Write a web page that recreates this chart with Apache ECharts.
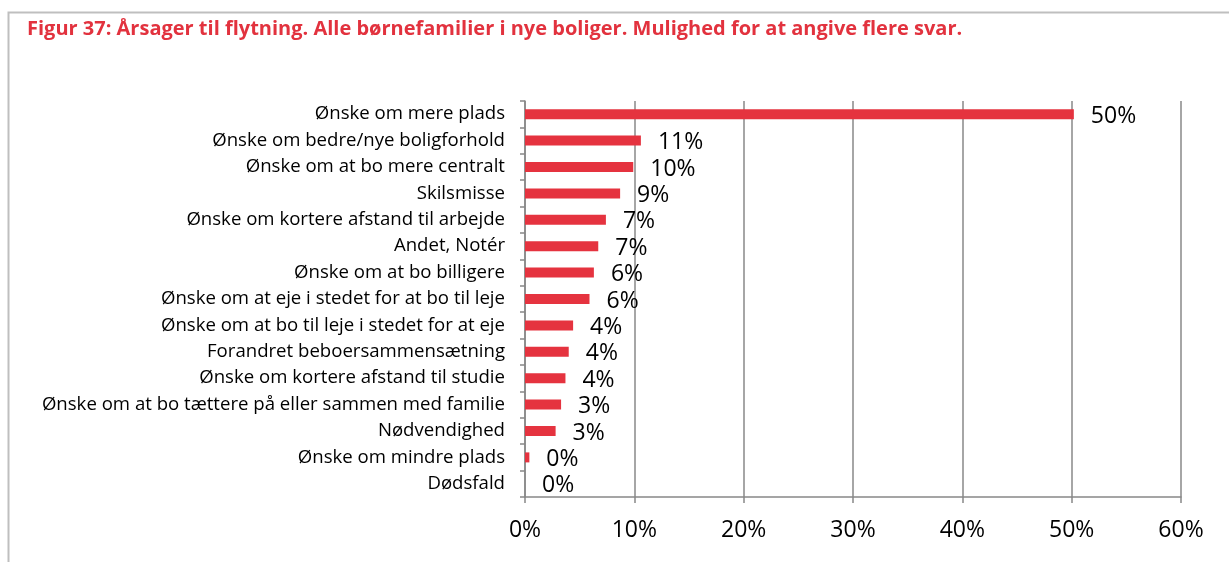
<!DOCTYPE html>
<html>
<head>
<meta charset="utf-8">
<script src="https://cdn.jsdelivr.net/npm/echarts@6/dist/echarts.min.js"></script>
<style>
html,body{margin:0;padding:0;background:#fff;}
#chart{width:1229px;height:562px;}
</style>
</head>
<body>
<div id="chart"></div>
<script>
const titleText = 'Figur 37: Årsager til flytning. Alle børnefamilier i nye boliger. Mulighed for at angive flere svar.';
const categories = [
  'Ønske om mere plads',
  'Ønske om bedre/nye boligforhold',
  'Ønske om at bo mere centralt',
  'Skilsmisse',
  'Ønske om kortere afstand til arbejde',
  'Andet, Notér',
  'Ønske om at bo billigere',
  'Ønske om at eje i stedet for at bo til leje',
  'Ønske om at bo til leje i stedet for at eje',
  'Forandret beboersammensætning',
  'Ønske om kortere afstand til studie',
  'Ønske om at bo tættere på eller sammen med familie',
  'Nødvendighed',
  'Ønske om mindre plads',
  'Dødsfald'
];
const values = [50.2, 10.6, 9.9, 8.7, 7.4, 6.7, 6.3, 5.9, 4.4, 4.0, 3.7, 3.3, 2.8, 0.4, 0];
const xTicks = [0, 10, 20, 30, 40, 50, 60];

const font = '"Open Sans", Lato, sans-serif';
const chart = echarts.init(document.getElementById('chart'), null, {renderer: 'canvas'});
chart.setOption({
  animation: false,
  graphic: [
    {type: 'rect', shape: {x: 8.5, y: 12.5, width: 1300, height: 700}, style: {fill: 'none', stroke: '#bfbfbf', lineWidth: 2}, z: -1},
    {type: 'text', left: 27, top: 19, style: {text: titleText, fill: '#E2323E', font: 'bold 20px ' + font}}
  ],
  grid: {left: 525, right: 48, top: 101, bottom: 65, containLabel: false},
  xAxis: {
    type: 'value', min: xTicks[0], max: xTicks[xTicks.length - 1], interval: 10,
    axisLine: {show: true, lineStyle: {color: '#888', width: 1.5}},
    axisTick: {show: true, length: 6, lineStyle: {color: '#888', width: 1.5}},
    splitLine: {show: true, lineStyle: {color: '#888', width: 1.5}},
    axisLabel: {formatter: '{value}%', fontSize: 23, color: '#000', fontFamily: font, margin: 22}
  },
  yAxis: {
    type: 'category', data: categories, inverse: true,
    axisLine: {show: true, lineStyle: {color: '#888', width: 1.5}},
    axisTick: {show: true, length: 5, lineStyle: {color: '#888', width: 1.5}},
    axisLabel: {fontSize: 18.6, color: '#000', fontFamily: font, margin: 20}
  },
  series: [{
    type: 'bar', data: values, barWidth: 10,
    itemStyle: {color: '#E5333F'},
    label: {
      show: true, position: 'right', distance: 17, offset: [0, 2],
      fontSize: 23, color: '#000', fontFamily: font,
      formatter: p => Math.round(p.value) + '%'
    }
  }]
});
</script>
</body>
</html>
